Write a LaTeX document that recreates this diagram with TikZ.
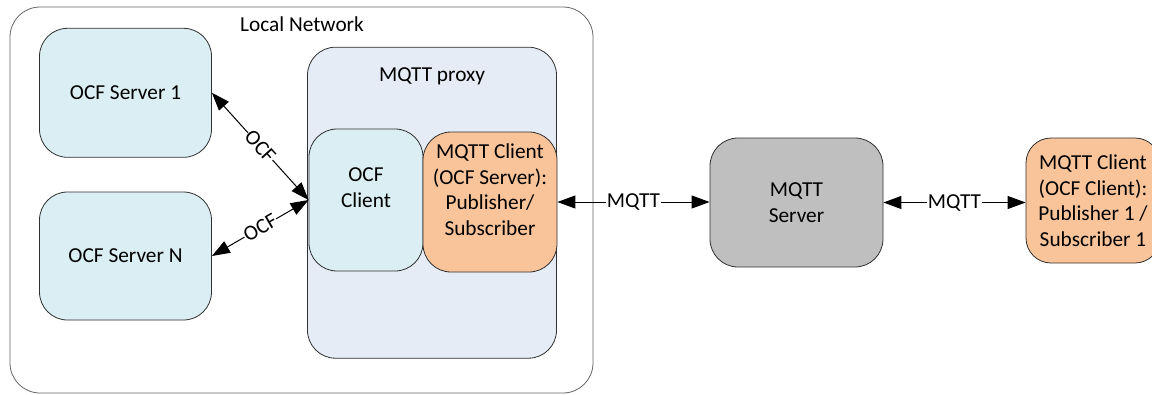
\documentclass[tikz,border=0pt]{standalone}
\usepackage{fontspec}
\setmainfont{Carlito}
\usetikzlibrary{arrows.meta}
\definecolor{srvblue}{HTML}{DAEEF3}
\definecolor{proxyblue}{HTML}{E5ECF6}
\definecolor{mqorange}{HTML}{F9C49A}
\definecolor{mqgray}{HTML}{BFBFBF}
\definecolor{edge}{HTML}{303030}
\tikzset{
  box/.style={draw=edge, line width=0.8pt, rectangle, rounded corners=28pt, inner sep=0pt},
  txt/.style={font=\fontsize{21.3}{25.5}\selectfont, align=center, inner sep=0pt},
  biarrow/.style={line width=1pt, {Triangle[length=18pt,width=13pt]}-{Triangle[length=18pt,width=13pt]}},
  lbl/.style={font=\fontsize{21.3}{25.5}\selectfont, fill=white, inner sep=0.5pt}
}
\begin{document}
\begin{tikzpicture}[x=1pt,y=-1pt]
\useasboundingbox (0,0) rectangle (1152,394);
% outer local network
\node[box, draw=gray!80!black, rounded corners=30pt, minimum width=583pt, minimum height=386pt] (outer) at (301.5,200) {};
\node[txt] (outert) at (302,24) {Local Network};
% OCF servers
\node[box, fill=srvblue, minimum width=172pt, minimum height=129pt] (s1) at (125.5,92.8) {};
\node[txt] (s1t) at (s1.center) {OCF Server 1};
\node[box, fill=srvblue, minimum width=172pt, minimum height=128pt] (sN) at (125.5,256) {};
\node[txt] (sNt) at (sN.center) {OCF Server N};
% proxy
\node[box, fill=proxyblue, minimum width=249pt, minimum height=311pt] (proxy) at (432,202.7) {};
\node[txt] (proxyt) at (432,76) {MQTT proxy};
\node[box, fill=srvblue, minimum width=114pt, minimum height=142pt] (ocfc) at (366,200) {};
\node[txt] (ocfct) at (366,187.5) {OCF\\Client};
\node[box, fill=mqorange, minimum width=134pt, minimum height=140pt] (mqc) at (490,202) {};
\node[txt] (mqct) at (490,189.5) {MQTT Client\\(OCF Server):\\Publisher/\\Subscriber};
% MQTT server
\node[box, fill=mqgray, minimum width=173pt, minimum height=129pt] (mqs) at (796.5,202.5) {};
\node[txt] (mqst) at (mqs.center) {MQTT\\Server};
% remote client
\node[box, fill=mqorange, rounded corners=25pt, minimum width=134pt, minimum height=125pt] (rc) at (1093,200.5) {};
\node[txt] (rct) at (rc.center) {MQTT Client\\(OCF Client):\\Publisher 1 /\\Subscriber 1};
% connectors
\draw[biarrow] (s1.east) -- (ocfc.west) node[midway, sloped, lbl] (l1) {OCF};
\draw[biarrow] (sN.east) -- (ocfc.west) node[midway, sloped, lbl] (l2) {OCF};
\draw[biarrow] (mqc.east) -- (mqc.east -| mqs.west) node[midway, lbl] (l3) {MQTT};
\draw[biarrow] (mqs.east) -- (mqs.east -| rc.west) node[midway, lbl] (l4) {MQTT};
\end{tikzpicture}
\end{document}
